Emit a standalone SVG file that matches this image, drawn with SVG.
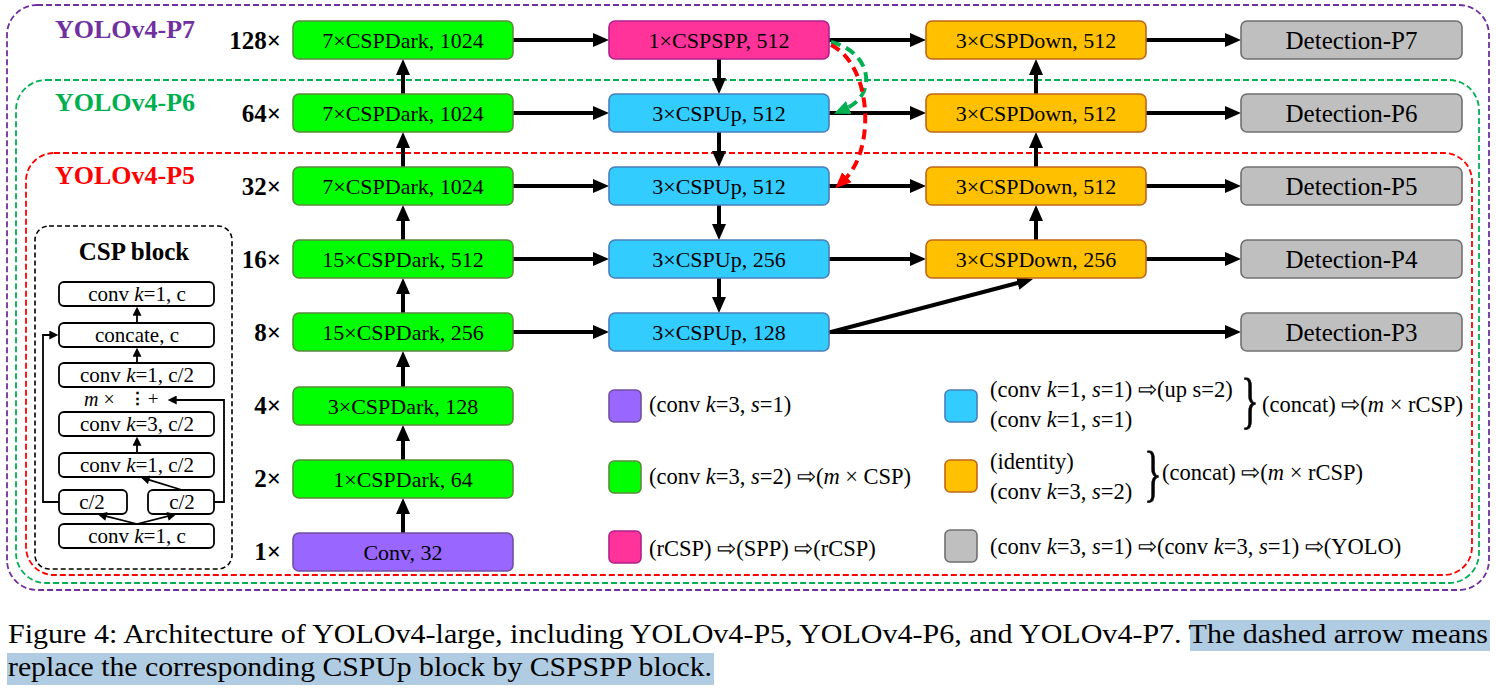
<svg xmlns="http://www.w3.org/2000/svg" width="1496" height="688" viewBox="0 0 1496 688">
<style>
text{font-family:"Liberation Serif","Times New Roman",serif;fill:#000}
.lbl{font-size:22px;text-anchor:middle}
.det{font-size:25px;text-anchor:middle}
.scale{font-size:25px;font-weight:bold;text-anchor:end}
.yolo{font-size:26px;font-weight:bold}
.leg{font-size:22.5px}
.csp{font-size:21px;text-anchor:middle}
.i{font-style:italic}
.brace{font-size:62px;stroke:#000;stroke-width:0.7}
.dark{fill:#00FF00;stroke:#5A8A3C;stroke-width:1.6}
.up{fill:#33CCFF;stroke:#4A7EBB;stroke-width:1.6}
.down{fill:#FFC000;stroke:#C0651A;stroke-width:1.6}
.det-b{fill:#BFBFBF;stroke:#707070;stroke-width:1.6}
.spp{fill:#FF3399;stroke:#B0208A;stroke-width:1.6}
.conv{fill:#9966FF;stroke:#7050A0;stroke-width:1.6}
.ib{fill:#fff;stroke:#000;stroke-width:1.8}
.ar{fill:none;stroke:#000;stroke-width:4;marker-end:url(#arr)}
.sa{fill:none;stroke:#000;stroke-width:1.8;marker-end:url(#sm)}
.frame{fill:none;stroke-width:1.8;stroke-dasharray:6 3}
</style>
<defs>
<marker id="arr" viewBox="0 0 16 14" markerWidth="16" markerHeight="14" refX="4" refY="7" orient="auto" markerUnits="userSpaceOnUse"><path d="M0,0 L16,7 L0,14 z" fill="#000"/></marker>
<marker id="sm" viewBox="0 0 10 10" markerWidth="10" markerHeight="9" refX="3" refY="5" orient="auto" markerUnits="userSpaceOnUse"><path d="M0,0 L10,5 L0,10 z" fill="#000"/></marker>
<marker id="garr" viewBox="0 0 16 14" markerWidth="16" markerHeight="14" refX="4" refY="7" orient="auto" markerUnits="userSpaceOnUse"><path d="M0,0 L16,7 L0,14 z" fill="#00B050"/></marker>
<marker id="rarr" viewBox="0 0 16 14" markerWidth="16" markerHeight="14" refX="4" refY="7" orient="auto" markerUnits="userSpaceOnUse"><path d="M0,0 L16,7 L0,14 z" fill="#FF0000"/></marker>
</defs>

<g id="frames">
<rect class="frame" x="7" y="5" width="1482" height="585" rx="30" stroke="#7030A0"/>
<rect class="frame" x="16" y="80" width="1463" height="503" rx="30" stroke="#00B050"/>
<rect class="frame" x="26" y="153" width="1446" height="422" rx="28" stroke="#FF0000"/>
<text class="yolo" x="55" y="38" style="fill:#7030A0">YOLOv4-P7</text>
<text class="yolo" x="55" y="111" style="fill:#00B050">YOLOv4-P6</text>
<text class="yolo" x="55" y="184" style="fill:#FF0000">YOLOv4-P5</text>
</g>

<g id="scales">
<text class="scale" x="281" y="49">128×</text>
<text class="scale" x="281" y="122">64×</text>
<text class="scale" x="281" y="195">32×</text>
<text class="scale" x="281" y="268">16×</text>
<text class="scale" x="281" y="341">8×</text>
<text class="scale" x="281" y="414">4×</text>
<text class="scale" x="281" y="487">2×</text>
<text class="scale" x="281" y="560">1×</text>
</g>

<g id="connectors">
<path class="ar" d="M403 94 V71"/>
<path class="ar" d="M403 167 V144"/>
<path class="ar" d="M403 240 V217"/>
<path class="ar" d="M403 313 V290"/>
<path class="ar" d="M403 387 V363"/>
<path class="ar" d="M403 460 V437"/>
<path class="ar" d="M403 533 V510"/>
<path class="ar" d="M513 40 H597"/>
<path class="ar" d="M513 113 H597"/>
<path class="ar" d="M513 186 H597"/>
<path class="ar" d="M513 259 H597"/>
<path class="ar" d="M513 332 H597"/>
<path class="ar" d="M719 59 V82"/>
<path class="ar" d="M719 132 V155"/>
<path class="ar" d="M719 205 V228"/>
<path class="ar" d="M719 278 V301"/>
<path class="ar" d="M829 40 H914"/>
<path class="ar" d="M829 113 H914"/>
<path class="ar" d="M829 186 H914"/>
<path class="ar" d="M829 259 H914"/>
<path class="ar" d="M829 332 H1229"/>
<path class="ar" d="M831 332 L1021.4 282"/>
<path class="ar" d="M1036 240 V217"/>
<path class="ar" d="M1036 167 V144"/>
<path class="ar" d="M1036 94 V71"/>
<path class="ar" d="M1146 40 H1229"/>
<path class="ar" d="M1146 113 H1229"/>
<path class="ar" d="M1146 186 H1229"/>
<path class="ar" d="M1146 259 H1229"/>
<path d="M831 42 C872 52, 878 95, 845 109" fill="none" stroke="#00B050" stroke-width="4" stroke-dasharray="10 6" marker-end="url(#garr)"/>
<path d="M831 45 C872 65, 876 150, 844 180" fill="none" stroke="#FF0000" stroke-width="4" stroke-dasharray="10 6" marker-end="url(#rarr)"/>
</g>

<g id="n-dark7a"><rect class="dark" x="293" y="21" width="220" height="38" rx="6"/><text class="lbl" x="403" y="48">7×CSPDark, 1024</text></g>
<g id="n-dark7b"><rect class="dark" x="293" y="94" width="220" height="38" rx="6"/><text class="lbl" x="403" y="121">7×CSPDark, 1024</text></g>
<g id="n-dark7c"><rect class="dark" x="293" y="167" width="220" height="38" rx="6"/><text class="lbl" x="403" y="194">7×CSPDark, 1024</text></g>
<g id="n-dark15a"><rect class="dark" x="293" y="240" width="220" height="38" rx="6"/><text class="lbl" x="403" y="267">15×CSPDark, 512</text></g>
<g id="n-dark15b"><rect class="dark" x="293" y="313" width="220" height="38" rx="6"/><text class="lbl" x="403" y="340">15×CSPDark, 256</text></g>
<g id="n-dark3"><rect class="dark" x="293" y="387" width="220" height="38" rx="6"/><text class="lbl" x="403" y="414">3×CSPDark, 128</text></g>
<g id="n-dark1"><rect class="dark" x="293" y="460" width="220" height="38" rx="6"/><text class="lbl" x="403" y="487">1×CSPDark, 64</text></g>
<g id="n-conv"><rect class="conv" x="293" y="533" width="220" height="38" rx="6"/><text class="lbl" x="403" y="560">Conv, 32</text></g>

<g id="n-spp"><rect class="spp" x="609" y="21" width="220" height="38" rx="6"/><text class="lbl" x="719" y="48">1×CSPSPP, 512</text></g>
<g id="n-up512a"><rect class="up" x="609" y="94" width="220" height="38" rx="6"/><text class="lbl" x="719" y="121">3×CSPUp, 512</text></g>
<g id="n-up512b"><rect class="up" x="609" y="167" width="220" height="38" rx="6"/><text class="lbl" x="719" y="194">3×CSPUp, 512</text></g>
<g id="n-up256"><rect class="up" x="609" y="240" width="220" height="38" rx="6"/><text class="lbl" x="719" y="267">3×CSPUp, 256</text></g>
<g id="n-up128"><rect class="up" x="609" y="313" width="220" height="38" rx="6"/><text class="lbl" x="719" y="340">3×CSPUp, 128</text></g>

<g id="n-down7"><rect class="down" x="926" y="21" width="220" height="38" rx="6"/><text class="lbl" x="1036" y="48">3×CSPDown, 512</text></g>
<g id="n-down6"><rect class="down" x="926" y="94" width="220" height="38" rx="6"/><text class="lbl" x="1036" y="121">3×CSPDown, 512</text></g>
<g id="n-down5"><rect class="down" x="926" y="167" width="220" height="38" rx="6"/><text class="lbl" x="1036" y="194">3×CSPDown, 512</text></g>
<g id="n-down4"><rect class="down" x="926" y="240" width="220" height="38" rx="6"/><text class="lbl" x="1036" y="267">3×CSPDown, 256</text></g>

<g id="n-det7"><rect class="det-b" x="1241" y="21" width="221" height="38" rx="6"/><text class="det" x="1351.5" y="49">Detection-P7</text></g>
<g id="n-det6"><rect class="det-b" x="1241" y="94" width="221" height="38" rx="6"/><text class="det" x="1351.5" y="122">Detection-P6</text></g>
<g id="n-det5"><rect class="det-b" x="1241" y="167" width="221" height="38" rx="6"/><text class="det" x="1351.5" y="195">Detection-P5</text></g>
<g id="n-det4"><rect class="det-b" x="1241" y="240" width="221" height="38" rx="6"/><text class="det" x="1351.5" y="268">Detection-P4</text></g>
<g id="n-det3"><rect class="det-b" x="1241" y="313" width="221" height="38" rx="6"/><text class="det" x="1351.5" y="341">Detection-P3</text></g>

<g id="csp-block">
<rect x="35" y="226" width="197" height="343" rx="14" fill="none" stroke="#000" stroke-width="1.6" stroke-dasharray="5 3"/>
<text x="134" y="260" style="font-size:25px;font-weight:bold;text-anchor:middle">CSP block</text>
<rect class="ib" x="59" y="282" width="155" height="24" rx="5"/><text class="csp" x="137" y="301">conv <tspan class="i">k</tspan>=1, c</text>
<rect class="ib" x="59" y="323" width="155" height="24" rx="5"/><text class="csp" x="137" y="342">concate, c</text>
<rect class="ib" x="59" y="363" width="155" height="24" rx="5"/><text class="csp" x="137" y="382">conv <tspan class="i">k</tspan>=1, c/2</text>
<text x="84" y="406" style="font-size:20px"><tspan class="i">m</tspan> ×</text>
<text x="137" y="404" style="font-size:17px;text-anchor:middle;font-weight:bold">⋮</text>
<text x="153" y="405" style="font-size:19px;text-anchor:middle">+</text>
<rect class="ib" x="59" y="412" width="155" height="24" rx="5"/><text class="csp" x="137" y="431">conv <tspan class="i">k</tspan>=3, c/2</text>
<rect class="ib" x="59" y="453" width="155" height="24" rx="5"/><text class="csp" x="137" y="472">conv <tspan class="i">k</tspan>=1, c/2</text>
<rect class="ib" x="59" y="490" width="68" height="24" rx="5"/><text class="csp" x="92" y="509">c/2</text>
<rect class="ib" x="148" y="490" width="66" height="24" rx="5"/><text class="csp" x="182" y="509">c/2</text>
<rect class="ib" x="59" y="524" width="155" height="24" rx="5"/><text class="csp" x="137" y="543">conv <tspan class="i">k</tspan>=1, c</text>
<path class="sa" d="M137 453 V443"/>
<path class="sa" d="M137 363 V354"/>
<path class="sa" d="M137 323 V313"/>
<path class="sa" d="M137 524 L103.8 515.7"/>
<path class="sa" d="M137 524 L170.2 515.7"/>
<path class="sa" d="M182 490 L146.7 479.1"/>
<path class="sa" d="M59 502 H43 V335 H52"/>
<path class="sa" d="M214 502 H224 V400 H174"/>
</g>

<g id="legend">
<rect class="conv" x="609" y="390" width="32" height="32" rx="5"/>
<text class="leg" x="649" y="412">(conv <tspan class="i">k</tspan>=3, <tspan class="i">s</tspan>=1)</text>
<rect class="dark" x="609" y="461" width="32" height="32" rx="5"/>
<text class="leg" x="649" y="484">(conv <tspan class="i">k</tspan>=3, <tspan class="i">s</tspan>=2) ⇨(<tspan class="i">m</tspan> × CSP)</text>
<rect class="spp" x="609" y="531" width="32" height="32" rx="5"/>
<text class="leg" x="649" y="556">(rCSP) ⇨(SPP) ⇨(rCSP)</text>

<rect class="up" x="945" y="390" width="32" height="32" rx="5"/>
<text class="leg" x="990" y="397">(conv <tspan class="i">k</tspan>=1, <tspan class="i">s</tspan>=1) ⇨(up s=2)</text>
<text class="leg" x="990" y="427">(conv <tspan class="i">k</tspan>=1, <tspan class="i">s</tspan>=1)</text>
<text class="brace" transform="translate(1241,421) scale(0.6,1)">}</text>
<text class="leg" x="1262" y="412">(concat) ⇨(<tspan class="i">m</tspan> × rCSP)</text>

<rect class="down" x="945" y="460" width="32" height="32" rx="5"/>
<text class="leg" x="990" y="469">(identity)</text>
<text class="leg" x="990" y="499">(conv <tspan class="i">k</tspan>=3, <tspan class="i">s</tspan>=2)</text>
<text class="brace" transform="translate(1144,494) scale(0.6,1)">}</text>
<text class="leg" x="1162" y="480">(concat) ⇨(<tspan class="i">m</tspan> × rCSP)</text>

<rect class="det-b" x="945" y="530" width="32" height="32" rx="5"/>
<text class="leg" x="990" y="554">(conv <tspan class="i">k</tspan>=3, <tspan class="i">s</tspan>=1) ⇨(conv <tspan class="i">k</tspan>=3, <tspan class="i">s</tspan>=1) ⇨(YOLO)</text>
</g>

<g id="caption">
<rect x="1190" y="620" width="300" height="31" fill="#B0CCE2"/>
<rect x="7" y="653" width="707" height="32" fill="#B0CCE2"/>
<text x="8" y="643" textLength="1480" lengthAdjust="spacingAndGlyphs" style="font-size:28px">Figure 4: Architecture of YOLOv4-large, including YOLOv4-P5, YOLOv4-P6, and YOLOv4-P7. The dashed arrow means</text>
<text x="8" y="676" textLength="704" lengthAdjust="spacingAndGlyphs" style="font-size:28px">replace the corresponding CSPUp block by CSPSPP block.</text>
</g>
</svg>
